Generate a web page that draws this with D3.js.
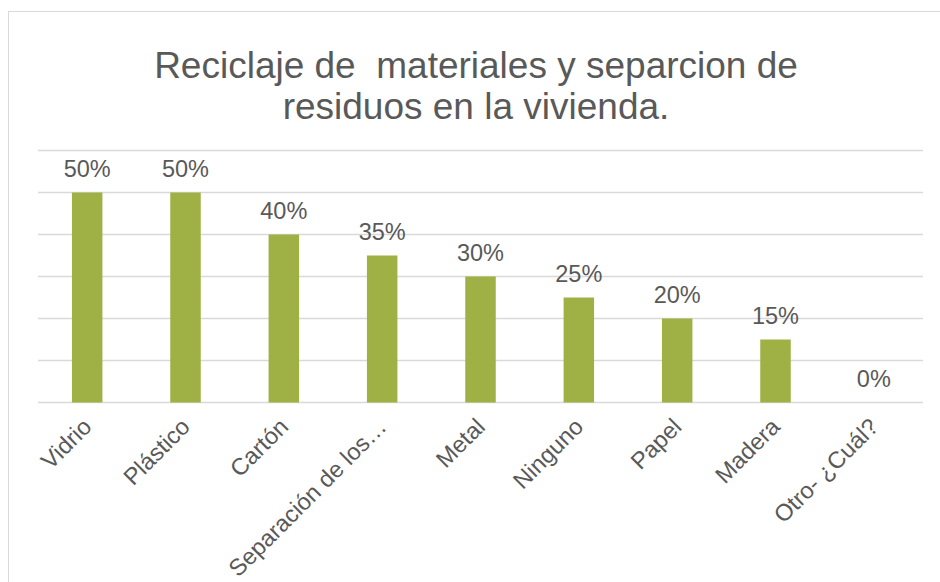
<!DOCTYPE html>
<html>
<head>
<meta charset="utf-8">
<script src="https://cdn.jsdelivr.net/npm/d3@7"></script>
<style>
  body { margin: 0; background: #fff; }
  text { font-family: "Liberation Sans", Arial, sans-serif; fill: #595959; }
  .title { white-space: pre; }
</style>
</head>
<body>
<div id="chart"></div>
<script>
var categories = ["Vidrio", "Plástico", "Cartón", "Separación de los…", "Metal", "Ninguno", "Papel", "Madera", "Otro- ¿Cuál?"];
var values = [0.50, 0.50, 0.40, 0.35, 0.30, 0.25, 0.20, 0.15, 0.00];
var yTicks = [0, 0.1, 0.2, 0.3, 0.4, 0.5, 0.6];
var titleLines = ["Reciclaje de  materiales y separcion de", "residuos en la vivienda."];

var width = 940, height = 582;
var margin = { top: 150.5, right: 17, bottom: 179.5, left: 38 };
var innerW = width - margin.left - margin.right;
var innerH = height - margin.top - margin.bottom;

var svg = d3.select("#chart").append("svg")
    .attr("width", width)
    .attr("height", height);

// chart frame
svg.append("rect")
    .attr("x", 8.5).attr("y", 11.5)
    .attr("width", 960).attr("height", 600)
    .attr("fill", "none")
    .attr("stroke", "#d9d9d9");

svg.selectAll(".title")
    .data(titleLines)
    .enter().append("text")
    .attr("class", "title")
    .attr("x", 476)
    .attr("y", function(d, i) { return 78 + i * 41; })
    .attr("text-anchor", "middle")
    .attr("xml:space", "preserve")
    .style("font-size", "37px")
    .text(function(d) { return d; });

var g = svg.append("g")
    .attr("transform", "translate(" + margin.left + "," + margin.top + ")");

var x = d3.scaleBand()
    .domain(categories)
    .range([0, innerW])
    .paddingInner(0.69)
    .paddingOuter(0.345);

var y = d3.scaleLinear()
    .domain([0, 0.6])
    .range([innerH, 0]);

// gridlines
g.selectAll(".grid")
    .data(yTicks)
    .enter().append("line")
    .attr("class", "grid")
    .attr("x1", 0).attr("x2", innerW)
    .attr("y1", function(d) { return y(d); })
    .attr("y2", function(d) { return y(d); })
    .attr("stroke", "#d9d9d9")
    .attr("stroke-width", 1.3);

g.selectAll(".bar")
    .data(values)
    .enter().append("rect")
    .attr("class", "bar")
    .attr("x", function(d, i) { return x(categories[i]); })
    .attr("y", function(d) { return y(d); })
    .attr("width", x.bandwidth())
    .attr("height", function(d) { return innerH - y(d); })
    .attr("fill", "#9fb144");

g.selectAll(".val")
    .data(values)
    .enter().append("text")
    .attr("class", "val")
    .attr("x", function(d, i) { return x(categories[i]) + x.bandwidth() / 2; })
    .attr("y", function(d) { return y(d) - 16; })
    .attr("text-anchor", "middle")
    .style("font-size", "23.5px")
    .text(function(d) { return d3.format(".0%")(d); });

// category axis labels
var xAxis = d3.axisBottom(x).tickSize(0).tickPadding(0);
var ax = g.append("g")
    .attr("transform", "translate(0," + innerH + ")")
    .call(xAxis);
ax.select(".domain").remove();
ax.selectAll("text")
    .attr("y", 0).attr("x", 0).attr("dy", "0.35em")
    .attr("transform", "translate(0,20) rotate(-45)")
    .style("text-anchor", "end")
    .style("font-size", "23.5px")
    .style("font-family", "'Liberation Sans', Arial, sans-serif")
    .attr("fill", "#595959");
</script>
</body>
</html>
